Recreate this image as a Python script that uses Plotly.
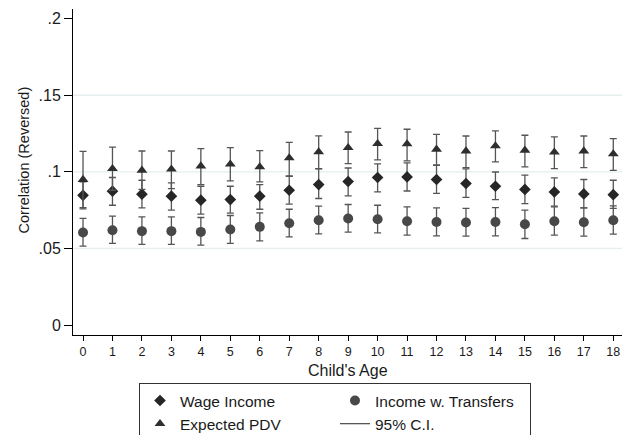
import plotly.graph_objects as go

# ---------------- data ----------------
ages = list(range(19))

wage_income = [0.0847, 0.0874, 0.0854, 0.0841, 0.0815, 0.0819, 0.0841, 0.0880, 0.0917, 0.0937,
               0.0963, 0.0967, 0.0950, 0.0924, 0.0906, 0.0885, 0.0869, 0.0856, 0.0851]
wage_upper = [0.0935, 0.0963, 0.0945, 0.0928, 0.0906, 0.0906, 0.0917, 0.0971, 0.1020, 0.1025,
              0.1052, 0.1058, 0.1043, 0.1019, 0.0999, 0.0978, 0.0960, 0.0950, 0.0945]
wage_lower = [0.0758, 0.0782, 0.0765, 0.0750, 0.0724, 0.0730, 0.0756, 0.0789, 0.0826, 0.0843,
              0.0869, 0.0875, 0.0859, 0.0834, 0.0819, 0.0793, 0.0776, 0.0765, 0.0761]

transfers = [0.0604, 0.0619, 0.0613, 0.0613, 0.0608, 0.0624, 0.0641, 0.0665, 0.0684, 0.0696,
             0.0691, 0.0678, 0.0673, 0.0669, 0.0673, 0.0658, 0.0678, 0.0671, 0.0684]
transfers_upper = [0.0696, 0.0711, 0.0706, 0.0706, 0.0702, 0.0715, 0.0732, 0.0756, 0.0776, 0.0787,
                   0.0782, 0.0771, 0.0765, 0.0761, 0.0767, 0.0750, 0.0771, 0.0765, 0.0778]
transfers_lower = [0.0515, 0.0533, 0.0526, 0.0526, 0.0522, 0.0533, 0.0550, 0.0576, 0.0595, 0.0606,
                   0.0602, 0.0587, 0.0582, 0.0580, 0.0582, 0.0565, 0.0587, 0.0580, 0.0593]

pdv = [0.0950, 0.1021, 0.1010, 0.1017, 0.1038, 0.1050, 0.1032, 0.1091, 0.1130, 0.1158,
       0.1184, 0.1182, 0.1147, 0.1136, 0.1169, 0.1141, 0.1128, 0.1136, 0.1117]
pdv_upper = [0.1134, 0.1162, 0.1136, 0.1136, 0.1152, 0.1158, 0.1139, 0.1193, 0.1235, 0.1260,
             0.1284, 0.1278, 0.1245, 0.1234, 0.1267, 0.1239, 0.1228, 0.1234, 0.1217]
pdv_lower = [0.0766, 0.0880, 0.0885, 0.0891, 0.0917, 0.0941, 0.0934, 0.0973, 0.1021, 0.1054,
             0.1078, 0.1071, 0.1043, 0.1028, 0.1065, 0.1032, 0.1021, 0.1028, 0.1010]

y_tick_vals = [0, 0.05, 0.1, 0.15, 0.2]
y_tick_text = ["0", ".05", ".1", ".15", ".2"]
grid_vals = [0.05, 0.1, 0.15]

FONT = "Liberation Sans, Arial, sans-serif"
TEXT = "#1a1a1a"
CI_COLOR = "#555555"


def err(center, upper, lower):
    return dict(
        type="data", symmetric=False,
        array=[u - c for u, c in zip(upper, center)],
        arrayminus=[c - l for c, l in zip(center, lower)],
        color=CI_COLOR, thickness=1.3, width=3.5,
    )


fig = go.Figure()

fig.add_trace(go.Scatter(
    x=ages, y=transfers, mode="markers", name="Income w. Transfers",
    marker=dict(symbol="circle", size=10, color="#484848"),
    error_y=err(transfers, transfers_upper, transfers_lower), legendrank=2,
))
fig.add_trace(go.Scatter(
    x=ages, y=wage_income, mode="markers", name="Wage Income",
    marker=dict(symbol="diamond", size=9, color="#262626"),
    error_y=err(wage_income, wage_upper, wage_lower), legendrank=1,
))
fig.add_trace(go.Scatter(
    x=ages, y=pdv, mode="markers", name="Expected PDV",
    marker=dict(symbol="triangle-up", size=9.5, color="#2e2e2e"),
    error_y=err(pdv, pdv_upper, pdv_lower), legendrank=3,
))
fig.add_trace(go.Scatter(
    x=[None], y=[None], mode="lines", name="95% C.I.",
    line=dict(color=CI_COLOR, width=1.3), legendrank=4,
))

for g in grid_vals:
    fig.add_shape(type="line", xref="paper", x0=0, x1=1, yref="y", y0=g, y1=g,
                  line=dict(color="#e6eef0", width=1.3), layer="below")

# axis titles placed as annotations (Stata-like placement)
fig.add_annotation(text="Child's Age", xref="paper", yref="paper", x=0.5, y=-0.110,
                   xanchor="center", yanchor="middle", showarrow=False,
                   font=dict(family=FONT, size=16, color=TEXT))
fig.add_annotation(text="Correlation (Reversed)", xref="paper", yref="paper", x=-0.09, y=0.537,
                   xanchor="center", yanchor="middle", showarrow=False, textangle=-90,
                   font=dict(family=FONT, size=14.5, color=TEXT))

fig.update_layout(
    width=630, height=435,
    margin=dict(l=65, r=15, t=1, b=108, autoexpand=False),
    paper_bgcolor="white", plot_bgcolor="white",
    font=dict(family=FONT, color=TEXT),
    showlegend=True,
    legend=dict(
        orientation="h", x=0.12, xanchor="left", y=-0.147, yanchor="top",
        bordercolor="#333333", borderwidth=1, bgcolor="white",
        font=dict(family=FONT, size=15.5, color=TEXT),
        entrywidth=150, entrywidthmode="pixels", traceorder="normal",
    ),
)

fig.update_xaxes(
    range=[-0.34, 18.33], tickmode="array", tickvals=ages,
    ticktext=[str(a) for a in ages],
    showgrid=False, zeroline=False, showline=True, linecolor="black", linewidth=1,
    ticks="outside", ticklen=5, tickcolor="black", tickwidth=1,
    tickfont=dict(family=FONT, size=12.5, color=TEXT),
    automargin=False,
)
fig.update_yaxes(
    range=[-0.0065, 0.2063], tickmode="array", tickvals=y_tick_vals, ticktext=y_tick_text,
    showgrid=False, zeroline=False, showline=True, linecolor="black", linewidth=1,
    ticks="outside", ticklen=8, tickcolor="black", tickwidth=1,
    tickfont=dict(family=FONT, size=16, color=TEXT),
    automargin=False,
)

fig.write_html("out.html")
